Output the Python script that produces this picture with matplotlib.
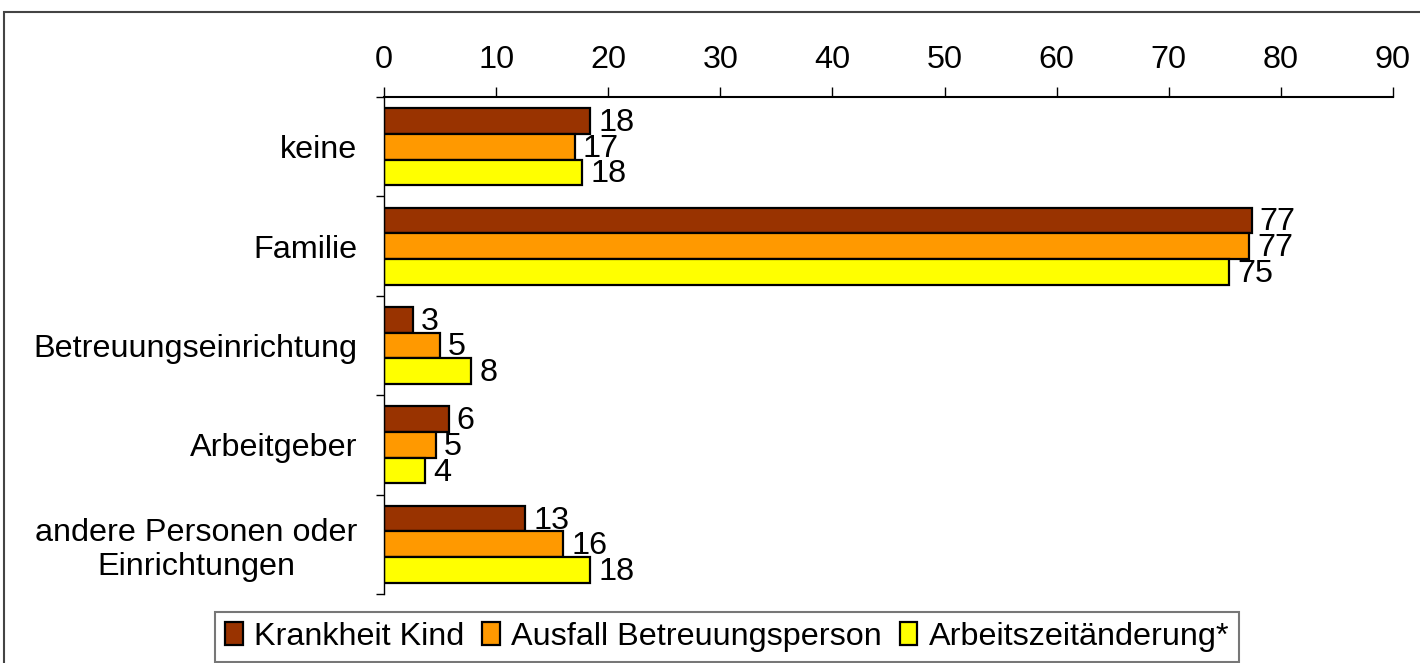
import matplotlib.pyplot as plt
from matplotlib.patches import Rectangle

categories = ["keine", "Familie", "Betreuungseinrichtung", "Arbeitgeber",
              "andere Personen oder\nEinrichtungen"]
series = ["Krankheit Kind", "Ausfall Betreuungsperson", "Arbeitszeitänderung*"]
krankheit = [18.4, 77.4, 2.6, 5.8, 12.6]
ausfall = [17.0, 77.2, 5.0, 4.6, 16.0]
arbeitszeit = [17.7, 75.4, 7.8, 3.7, 18.4]
values = [krankheit, ausfall, arbeitszeit]
colors = ["#993300", "#FF9900", "#FFFF00"]

plt.rcParams['font.family'] = ['Liberation Sans', 'DejaVu Sans']
fs = 23.3

fig = plt.figure(figsize=(14.2, 6.63), dpi=100)
ax = fig.add_axes([384 / 1420, 1 - 594 / 663, 1009 / 1420, 497 / 663])

# outer frame of the original chart area
fig.patches.append(Rectangle((4 / 1420, -0.05), 1.1, 1 - 12 / 663 + 0.05,
                             transform=fig.transFigure, fill=False,
                             edgecolor="#444444", linewidth=1.5))

h = 0.258
ypos = list(range(len(categories)))
for i, (vals, name, c) in enumerate(zip(values, series, colors)):
    ys = [y + (i - 1) * h for y in ypos]
    ax.barh(ys, vals, height=h, color=c, edgecolor="black", linewidth=1.6, label=name)
    for y, v in zip(ys, vals):
        ax.text(v + 0.7, y + 0.02, f"{v:.0f}", va="center", ha="left", fontsize=fs)

ax.set_xlim(0, 90)
ax.set_ylim(len(categories) - 0.5, -0.5)
ax.set_xticks(range(0, 91, 10))
ax.xaxis.tick_top()
ax.tick_params(axis="x", direction="out", length=7, width=1, pad=9, labelsize=fs)

ax.set_yticks(ypos)
ax.set_yticklabels(categories, fontsize=fs, multialignment="center")
ax.set_yticks([y - 0.5 for y in range(len(categories) + 1)], minor=True)
ax.tick_params(axis="y", which="major", length=0, pad=19)
ax.tick_params(axis="y", which="minor", length=6, width=1)

ax.spines["right"].set_visible(False)
ax.spines["bottom"].set_visible(False)
ax.spines["top"].set_linewidth(1.5)
ax.spines["left"].set_linewidth(1.0)

leg = fig.legend(loc="center", bbox_to_anchor=(727 / 1420, 1 - 637 / 663), ncol=3,
                 fontsize=fs, frameon=True, fancybox=False, handlelength=0.55,
                 handleheight=0.7, handletextpad=0.35, columnspacing=0.55,
                 borderpad=0.3, borderaxespad=0)
leg.get_frame().set_edgecolor("#555555")
leg.get_frame().set_linewidth(1.5)

fig.savefig("out.png", dpi=100)
